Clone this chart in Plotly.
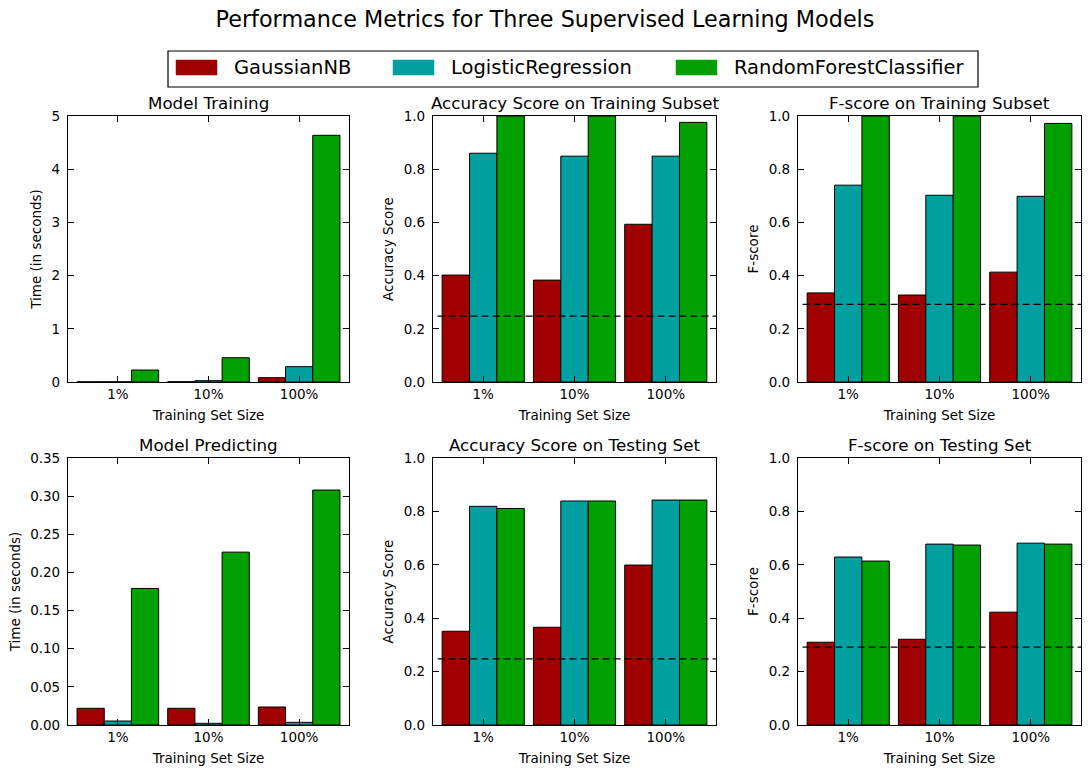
"""
Performance metrics for three supervised learning models.
2x3 grid of grouped bar charts, matplotlib-classic look.
"""

import plotly.graph_objects as go
from plotly.subplots import make_subplots

# Data
SIZES = ['1%', '10%', '100%']
MODELS = ['GaussianNB', 'LogisticRegression', 'RandomForestClassifier']
COLORS = ['#A00000', '#00A0A0', '#00A000']

# each list: [GaussianNB, LogisticRegression, RandomForestClassifier] per size
TRAIN_TIME = [[0.003, 0.005, 0.081], [0.004, 0.025, 0.288], [0.225, 0.456, 4.637]]
ACC_TRAIN = [[0.402, 0.383, 0.593], [0.860, 0.849, 0.849], [1.0, 1.0, 0.976]]
F_TRAIN = [[0.335, 0.327, 0.413], [0.740, 0.702, 0.698], [1.0, 1.0, 0.972]]
PRED_TIME = [[0.0219, 0.0219, 0.0236], [0.0052, 0.0022, 0.0035], [0.179, 0.2266, 0.308]]
ACC_TEST = [[0.351, 0.366, 0.599], [0.819, 0.839, 0.8425], [0.811, 0.839, 0.8425]]
F_TEST = [[0.310, 0.321, 0.4225], [0.629, 0.6775, 0.681], [0.614, 0.674, 0.6775]]

NAIVE_ACC = 0.2478
NAIVE_F = 0.2917

W, H = 1090, 775
FONT = 'DejaVu Sans, Arial, sans-serif'

# (title, y label, values, y range, dtick, tick format, naive baseline)
PANELS = [
    ('Model Training', 'Time (in seconds)', TRAIN_TIME, [0, 5], 1, 'd', None),
    ('Accuracy Score on Training Subset', 'Accuracy Score', ACC_TRAIN, [0, 1], 0.2, '.1f', NAIVE_ACC),
    ('F-score on Training Subset', 'F-score', F_TRAIN, [0, 1], 0.2, '.1f', NAIVE_F),
    ('Model Predicting', 'Time (in seconds)', PRED_TIME, [0, 0.35], 0.05, '.2f', None),
    ('Accuracy Score on Testing Set', 'Accuracy Score', ACC_TEST, [0, 1], 0.2, '.1f', NAIVE_ACC),
    ('F-score on Testing Set', 'F-score', F_TEST, [0, 1], 0.2, '.1f', NAIVE_F),
]

# axes boxes in pixels
X_BOXES = [(68, 349), (433, 716), (798, 1081)]
Y_BOXES = [(116, 382), (458, 725)]


def px_x(v):
    return v / W


def px_y(v):
    return 1 - v / H


fig = make_subplots(rows=2, cols=3)

annotations = []
shapes = []

for i, (title, ylabel, values, yrange, dtick, fmt, naive) in enumerate(PANELS):
    row, col = i // 3, i % 3
    n = i + 1
    for m, model in enumerate(MODELS):
        fig.add_trace(go.Bar(
            x=SIZES,
            y=values[m],
            name=model,
            marker=dict(color=COLORS[m], line=dict(color='black', width=1)),
            showlegend=False,
        ), row=row + 1, col=col + 1)

    x0, x1 = X_BOXES[col]
    yt, yb = Y_BOXES[row]
    xdom = [px_x(x0), px_x(x1)]
    ydom = [px_y(yb), px_y(yt)]

    fig.layout[f'xaxis{n}'].update(
        domain=xdom,
        range=[-0.55, 2.55],
        automargin=False,
        showline=True, mirror='ticks', linecolor='black', linewidth=1.2,
        ticks='inside', ticklen=6, tickwidth=1, tickcolor='black',
        showgrid=False, zeroline=False,
        tickfont=dict(size=13.5, color='black'),
        title=dict(text='Training Set Size', font=dict(size=13.5, color='black'), standoff=9),
    )
    fig.layout[f'yaxis{n}'].update(
        domain=ydom,
        range=yrange,
        dtick=dtick,
        tick0=0,
        tickformat=fmt,
        automargin=False,
        showline=True, mirror='ticks', linecolor='black', linewidth=1.2,
        ticks='inside', ticklen=6, tickwidth=1, tickcolor='black',
        showgrid=False, zeroline=False,
        ticklabelstandoff=4,
        tickfont=dict(size=13.5, color='black'),
        title=dict(text=ylabel, font=dict(size=13.5, color='black'), standoff=6),
    )

    annotations.append(dict(
        text=title, x=(xdom[0] + xdom[1]) / 2, y=ydom[1],
        xref='paper', yref='paper', xanchor='center', yanchor='bottom',
        yshift=1, showarrow=False, font=dict(size=16.7, color='black'),
    ))

    if naive is not None:
        shapes.append(dict(
            type='line', xref=f'x{n}', yref=f'y{n}',
            x0=-0.5, x1=2.55, y0=naive, y1=naive,
            line=dict(color='black', width=1.2, dash='7px,4px'),
        ))

# Legend drawn by hand (matplotlib-style wide swatches)
shapes.append(dict(
    type='rect', xref='paper', yref='paper',
    x0=px_x(168), x1=px_x(978), y0=px_y(87), y1=px_y(51),
    line=dict(color='black', width=1.2), fillcolor='white', layer='below',
))
SWATCH_X = [176, 393, 676]
for m, model in enumerate(MODELS):
    sx = SWATCH_X[m]
    shapes.append(dict(
        type='rect', xref='paper', yref='paper',
        x0=px_x(sx), x1=px_x(sx + 41), y0=px_y(75), y1=px_y(60),
        line=dict(color=COLORS[m], width=0.5), fillcolor=COLORS[m],
    ))
    annotations.append(dict(
        text=model, x=px_x(sx + 56), y=px_y(67.5),
        xref='paper', yref='paper', xanchor='left', yanchor='middle',
        showarrow=False, font=dict(size=19.5, color='black'),
    ))

fig.update_layout(
    width=W, height=H,
    margin=dict(l=0, r=0, t=0, b=0, autoexpand=False),
    barmode='group',
    bargap=0.1,
    bargroupgap=0,
    title=dict(
        text='Performance Metrics for Three Supervised Learning Models',
        x=0.5, xanchor='center', y=px_y(19), yanchor='middle',
        font=dict(size=22.3, color='black'),
    ),
    font=dict(family=FONT, color='black'),
    plot_bgcolor='white',
    paper_bgcolor='white',
    annotations=annotations,
    shapes=shapes,
    showlegend=False,
)

# drop the browser's default body margin so the figure sits at (0, 0)
fig.write_html(
    "out.html",
    config={'displayModeBar': False},
    post_script="document.body.style.margin = '0';",
)
